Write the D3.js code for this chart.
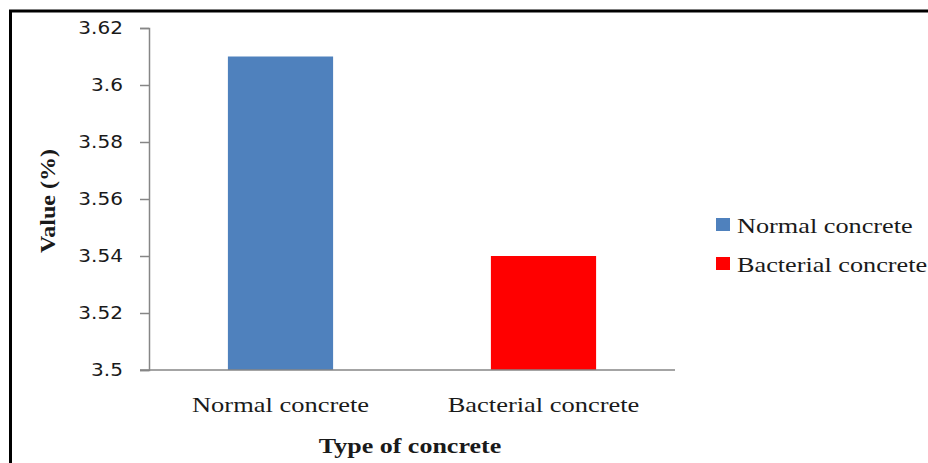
<!DOCTYPE html>
<html><head><meta charset="utf-8">
<script src="https://cdn.jsdelivr.net/npm/d3@7"></script>
<style>html,body{margin:0;padding:0;background:#fff;overflow:hidden}</style>
</head><body>
<script>
const categories = ["Normal concrete", "Bacterial concrete"];
const values = [3.61, 3.54];
const colors = ["#4F81BD", "#FF0000"];
const yTicks = [3.5, 3.52, 3.54, 3.56, 3.58, 3.6, 3.62];
const yTickLabels = ["3.5", "3.52", "3.54", "3.56", "3.58", "3.6", "3.62"];

const W = 928, H = 463;
const SERIF = "'Liberation Serif', 'Times New Roman', serif";
const svg = d3.select("body").append("svg").attr("width", W).attr("height", H);

// stretch text horizontally (reference rendering is wide)
function stretch(sel, factor) {
  sel.each(function() {
    const n = this.getComputedTextLength();
    d3.select(this).attr("textLength", n * factor).attr("lengthAdjust", "spacingAndGlyphs");
  });
}

// outer frame
svg.append("rect").attr("x", 10.5).attr("y", 11).attr("width", 940).attr("height", 470)
  .attr("fill", "none").attr("stroke", "#000").attr("stroke-width", 3);

const x0 = 149, x1 = 675, yTop = 28, yBot = 370;
const x = d3.scaleBand().domain(categories).range([x0, x1]).paddingInner(0.6).paddingOuter(0.3);
const y = d3.scaleLinear().domain([3.5, 3.62]).range([yBot, yTop]);

// bars
svg.selectAll("rect.bar").data(categories).enter().append("rect")
  .attr("class", "bar")
  .attr("x", d => x(d)).attr("width", x.bandwidth())
  .attr("y", (d, i) => y(values[i])).attr("height", (d, i) => y(3.5) - y(values[i]))
  .attr("fill", (d, i) => colors[i]);

// y axis
const yAxis = d3.axisLeft(y).tickValues(yTicks).tickFormat((d, i) => yTickLabels[i]).tickSize(9).tickPadding(17);
const gy = svg.append("g").attr("transform", `translate(${x0},0)`).call(yAxis);
gy.select(".domain").attr("stroke", "#868686").attr("stroke-width", 1.5);
gy.selectAll(".tick line").attr("stroke", "#868686").attr("stroke-width", 1.5);
gy.selectAll(".tick text").attr("fill", "#1a1a1a").attr("dy", "0.34em")
  .style("font-family", "'DejaVu Sans', Verdana, sans-serif").style("font-size", "17px");
stretch(gy.selectAll(".tick text"), 1.18);

// baseline x axis
const xAxis = d3.axisBottom(x).tickSize(0).tickPadding(42);
const gx = svg.append("g").attr("transform", `translate(0,${yBot})`).call(xAxis);
gx.select(".domain").attr("d", `M${x0 - 9},0H${x1}`).attr("stroke", "#868686").attr("stroke-width", 1.5);
gx.selectAll(".tick text").attr("fill", "#1a1a1a").attr("dy", "0")
  .style("font-family", SERIF).style("font-size", "21px");
stretch(gx.selectAll(".tick text"), 1.26);

// axis titles
const xt = svg.append("text").attr("x", 410).attr("y", 453).attr("text-anchor", "middle")
  .style("font-family", SERIF).style("font-size", "20px").style("font-weight", "bold")
  .attr("fill", "#1a1a1a").text("Type of concrete");
stretch(xt, 1.3);
const yt = svg.append("text").attr("transform", "translate(55,201) rotate(-90)").attr("text-anchor", "middle")
  .style("font-family", SERIF).style("font-size", "20px").style("font-weight", "bold")
  .attr("fill", "#1a1a1a").text("Value (%)");
stretch(yt, 1.2);

// legend
const leg = svg.append("g");
categories.forEach((c, i) => {
  const ly = 218 + i * 39;
  leg.append("rect").attr("x", 716).attr("y", ly).attr("width", 14).attr("height", 13).attr("fill", colors[i]);
  const t = leg.append("text").attr("x", 737).attr("y", ly + 15)
    .style("font-family", SERIF).style("font-size", "21px")
    .attr("fill", "#1a1a1a").text(c);
  stretch(t, 1.25);
});
</script>
</body></html>
